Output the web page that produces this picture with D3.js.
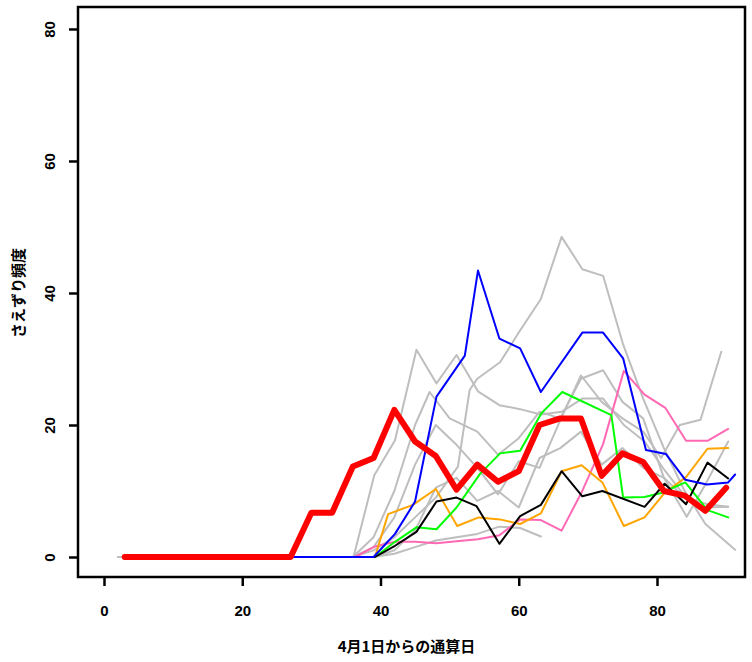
<!DOCTYPE html>
<html><head><meta charset="utf-8">
<script src="https://cdn.jsdelivr.net/npm/d3@7"></script>
<style>body{margin:0;background:#fff}svg{display:block}</style>
</head><body>
<script>
// ---- data (days since April 1, singing frequency) ----
const xTicks = [0, 20, 40, 60, 80];
const yTicks = [0, 20, 40, 60, 80];
const xTitle = "4月1日からの通算日";
const yTitle = "さえずり頻度";

const redDays   = [3, 6, 9, 12, 15, 18, 21, 24, 27, 30, 33, 36, 39, 42, 45, 48, 51, 54, 57, 60, 63, 66, 69, 72, 75, 78, 81, 84, 87, 90];
const redValues = [0, 0, 0, 0, 0, 0, 0, 0, 0, 6.7, 6.7, 13.7, 15, 22.3, 17.5, 15.3, 10.2, 14, 11.4, 13, 20, 21, 21, 12.3, 15.7, 14.4, 10, 9.3, 7, 10.5];

const blueDays   = [3, 39, 42.1, 45, 48.1, 52.2, 54.1, 57.2, 60.2, 63.2, 69.2, 72.2, 75.1, 78.4, 81.3, 84.1, 87.2, 90.3, 91.3];
const blueValues = [0, 0, 3.5, 8.4, 24.3, 30.5, 43.4, 33.1, 31.6, 25.0, 34.0, 34.0, 30.1, 16.2, 15.6, 11.7, 11.0, 11.3, 12.5];

const greenDays   = [3, 39.2, 42.1, 45.2, 48.1, 51.0, 54.4, 57.3, 60.2, 63.3, 66.3, 73.4, 75.1, 78.2, 80.6, 84.1, 87.3, 90.3];
const greenValues = [0, 0, 2.3, 4.5, 4.2, 7.5, 12.6, 15.7, 16.1, 21.8, 25.0, 21.5, 9.0, 9.1, 9.7, 11.3, 7.1, 6.0];

const orangeDays   = [3, 39.2, 41.1, 44.7, 48.0, 51.1, 54.2, 57.3, 60.2, 63.2, 66.2, 69.1, 72.1, 75.2, 78.2, 81.1, 84.2, 87.3, 90.3];
const orangeValues = [0, 0, 6.5, 7.9, 10.3, 4.7, 6.0, 5.7, 5.0, 6.6, 13.0, 13.9, 11.3, 4.7, 6.0, 9.7, 12.1, 16.4, 16.5];

const blackDays   = [3, 39.2, 42.1, 45.2, 48.1, 51.0, 53.9, 57.2, 60.2, 63.2, 66.2, 69.2, 72.1, 78.2, 81.1, 84.2, 87.3, 90.3];
const blackValues = [0, 0, 1.7, 3.8, 8.4, 9.0, 7.7, 2.0, 6.2, 7.9, 13.0, 9.2, 10.0, 7.6, 11.1, 8.0, 14.3, 11.9];

const pinkDays   = [3, 36.3, 39.2, 42.1, 45, 48.1, 51, 54.1, 57.2, 60.2, 63.2, 66.2, 69.1, 72.2, 75.2, 78.2, 81.2, 84.2, 87.3, 90.3];
const pinkValues = [0, 0, 1.6, 2.3, 2.3, 2.1, 2.4, 2.7, 3.3, 5.7, 5.6, 4.0, 9.8, 17.1, 28.2, 24.6, 22.6, 17.6, 17.6, 19.4];

// gray: other sites
const gray1Days   = [2, 36, 39, 42, 45, 48, 51.2, 52.9, 54, 57.3, 60, 63.2, 66.2, 69.2, 72.2, 75.1, 78, 81, 84, 87, 91.3];
const gray1Values = [0, 0, 1, 3, 6, 9, 13.7, 25.3, 27, 29.5, 34, 39.1, 48.5, 43.6, 42.6, 32.2, 24, 16.5, 10, 5, 1.1];
const gray2Days   = [3, 33, 36.1, 39.1, 42.1, 45.2, 48.1, 51, 54.1, 57.2, 60.2, 63.2, 66.2, 69.2, 72.2, 75.2, 78.2, 81.2, 84.2, 87.3, 90.3];
const gray2Values = [0, 0, 0, 12.4, 17.7, 31.4, 26.3, 30.6, 25.1, 23, 22.4, 21.6, 22, 24, 24, 20, 17.5, 13, 9, 8, 7.6];
const gray3Days   = [3, 36, 39, 42, 45, 47.1, 50, 54, 57, 60, 63, 66, 69, 72.2, 75, 78, 81, 84.3, 87, 90.3];
const gray3Values = [0, 0, 3, 10, 20, 25, 21, 19, 15.5, 18, 22, 21, 27, 28.3, 23.5, 21, 12, 6.1, 11, 17.5];
const gray4Days   = [3, 36, 39, 42, 45, 48, 51, 54, 57, 60, 63, 66, 69, 72, 75, 78, 80.6, 83.3, 86.3, 89.3];
const gray4Values = [0, 0, 1.5, 6, 14, 20, 17, 13.5, 9.5, 14.5, 13.5, 20.7, 27.5, 23.5, 21, 19, 15, 20, 20.8, 31.1];
const gray5Days   = [3, 39, 42, 45, 48, 51, 54, 57.2, 60.2, 63.2];
const gray5Values = [0, 0, 0.5, 1.5, 2.5, 3, 3.5, 4.6, 4.4, 3.1];
const gray6Days   = [3, 39, 42, 45, 48, 51, 54, 57, 60, 63, 66, 69, 72, 75, 78, 81, 84, 87, 90.3];
const gray6Values = [0, 0, 1, 4, 10.5, 12, 8.5, 10, 7.5, 15, 16.5, 19, 14, 16.5, 13.5, 12, 9, 7.5, 7.6];

const series = [
  {days: gray1Days, values: gray1Values, color: "#BEBEBE", width: 2},
  {days: gray2Days, values: gray2Values, color: "#BEBEBE", width: 2},
  {days: gray3Days, values: gray3Values, color: "#BEBEBE", width: 2},
  {days: gray4Days, values: gray4Values, color: "#BEBEBE", width: 2},
  {days: gray5Days, values: gray5Values, color: "#BEBEBE", width: 2},
  {days: gray6Days, values: gray6Values, color: "#BEBEBE", width: 2},
  {days: pinkDays, values: pinkValues, color: "#FF69B4", width: 2},
  {days: orangeDays, values: orangeValues, color: "#FFA500", width: 2},
  {days: greenDays, values: greenValues, color: "#00FF00", width: 2},
  {days: blackDays, values: blackValues, color: "#000000", width: 2},
  {days: blueDays, values: blueValues, color: "#0000FF", width: 2},
  {days: redDays, values: redValues, color: "#FF0000", width: 6}
];

// ---- layout ----
const W = 752, H = 662;
const plot = {left: 78, right: 745, top: 7, bottom: 577};

const x = d3.scaleLinear().domain([-3.76, 92.73]).range([plot.left, plot.right]);
const y = d3.scaleLinear().domain([-3.03, 83.33]).range([plot.bottom, plot.top]);

const svg = d3.select("body").append("svg").attr("width", W).attr("height", H);

svg.append("clipPath").attr("id", "c").append("rect")
  .attr("x", plot.left).attr("y", plot.top)
  .attr("width", plot.right - plot.left).attr("height", plot.bottom - plot.top);

const line = d3.line().x(d => x(d[0])).y(d => y(d[1]));
const lines = svg.append("g").attr("clip-path", "url(#c)");
series.forEach(s => {
  lines.append("path")
    .datum(s.days.map((d, i) => [d, s.values[i]]))
    .attr("d", line)
    .attr("fill", "none")
    .attr("stroke", s.color)
    .attr("stroke-width", s.width)
    .attr("stroke-linejoin", "round")
    .attr("stroke-linecap", "round");
});

// box
svg.append("rect")
  .attr("x", plot.left).attr("y", plot.top)
  .attr("width", plot.right - plot.left).attr("height", plot.bottom - plot.top)
  .attr("fill", "none").attr("stroke", "#000").attr("stroke-width", 2.5);

const tickFont = "Liberation Sans Narrow, Liberation Sans, Arial, sans-serif";

// axes
const xAxis = d3.axisBottom(x).tickValues(xTicks).tickSize(8).tickPadding(19);
const xa = svg.append("g").attr("transform", `translate(0,${plot.bottom + 1})`).call(xAxis);
xa.select(".domain").remove();
xa.selectAll(".tick line").attr("stroke-width", 2.5);
xa.selectAll(".tick text").attr("font-family", tickFont)
  .attr("font-weight", "bold").attr("font-size", 15).attr("fill", "#000");

const yAxis = d3.axisLeft(y).tickValues(yTicks).tickSize(8).tickPadding(0);
const ya = svg.append("g").attr("transform", `translate(${plot.left - 1},0)`).call(yAxis);
ya.select(".domain").remove();
ya.selectAll(".tick line").attr("stroke-width", 2.5);
ya.selectAll(".tick text")
  .attr("x", 0).attr("dy", 0)
  .attr("transform", "translate(-28,0) rotate(-90)")
  .attr("text-anchor", "middle").attr("dominant-baseline", "central")
  .attr("font-family", tickFont)
  .attr("font-weight", "bold").attr("font-size", 15).attr("fill", "#000");

// titles
svg.append("text").attr("x", (plot.left + plot.right) / 2 - 5).attr("y", 652)
  .attr("text-anchor", "middle")
  .attr("font-family", "Noto Sans CJK JP, sans-serif").attr("font-weight", "bold").attr("font-size", 15)
  .text(xTitle);
svg.append("text")
  .attr("transform", `translate(17,${y(40)}) rotate(-90)`)
  .attr("text-anchor", "middle").attr("dominant-baseline", "central")
  .attr("font-family", "Noto Sans CJK JP, sans-serif").attr("font-weight", "bold").attr("font-size", 15)
  .text(yTitle);
</script>
</body></html>
